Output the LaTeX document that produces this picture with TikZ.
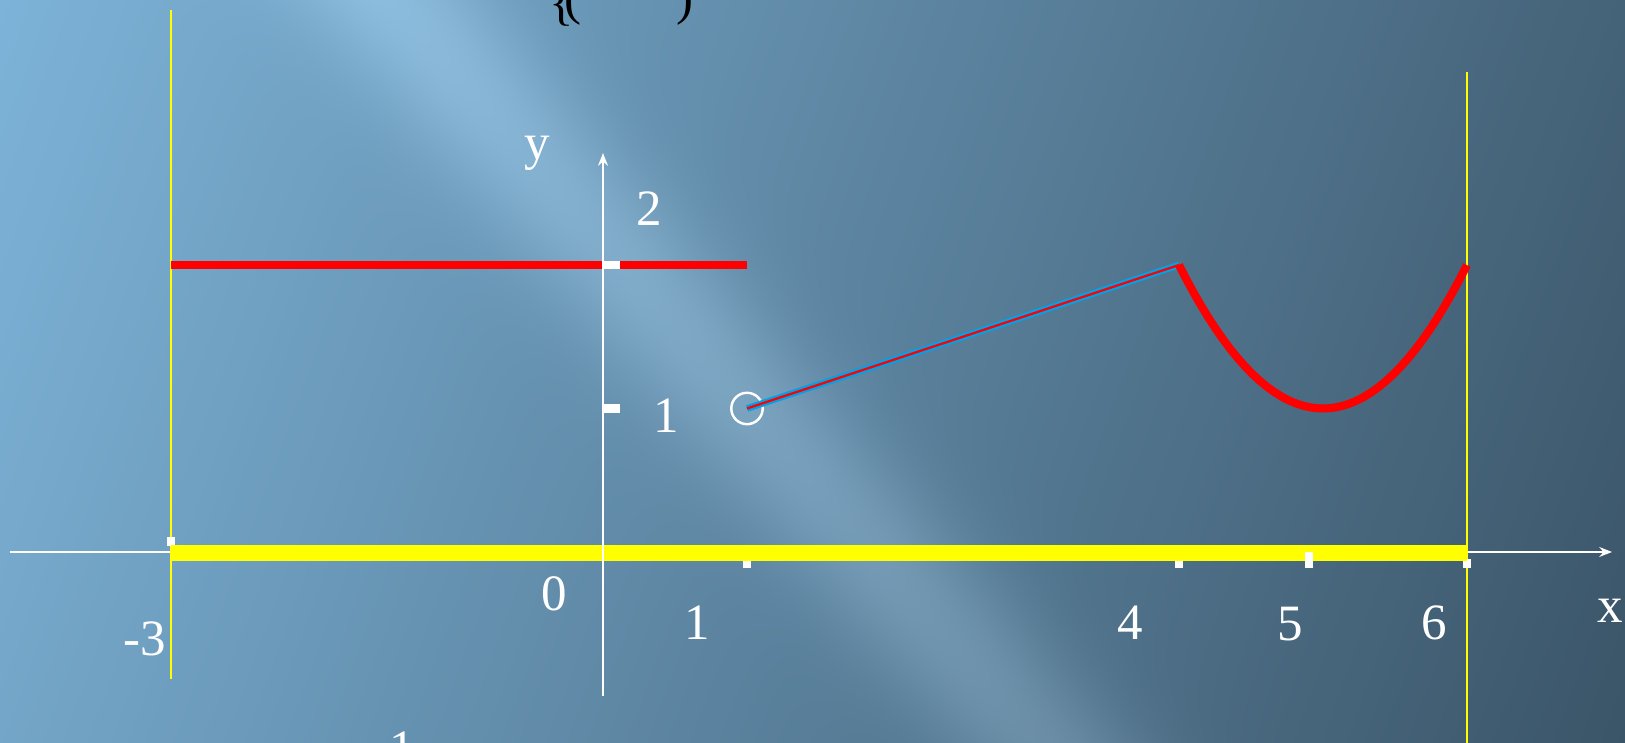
\documentclass[tikz,border=0pt]{standalone}
\usepackage{fontspec}
\setmainfont{Liberation Serif}
\usetikzlibrary{arrows.meta}
\definecolor{cRed}{HTML}{FF0000}
\definecolor{cYellow}{HTML}{FFFF00}
\definecolor{cBlue}{HTML}{00A2E8}
% slide background: light to dark slate, with one bright diagonal streak
\pgfdeclarefunctionalshading{slidebg}{\pgfpointorigin}{\pgfpoint{100bp}{100bp}}{}{
  exch 25 sub 50 div 1625 mul
  exch 25 sub 50 div 743 mul
  2 copy 743 exch sub 0.342 mul exch 0.94 mul add
  3 1 roll 0.656 mul exch 0.755 mul add
  785 sub 75 div dup mul neg 2.71828 exch exp 0.11 mul
  exch 1781 div
  2 copy -0.259 mul 0.490 add add 3 1 roll
  2 copy -0.369 mul 0.702 add add 3 1 roll
  -0.439 mul 0.847 add add
}

\begin{document}
\begin{tikzpicture}[x=1.44cm, y=1.435cm,
   font=\fontsize{14.5}{17}\selectfont, >={Stealth[length=3.6pt,width=2.8pt]},
   axisline/.style={->, white, line width=0.6pt},
   bound/.style={cYellow, line width=0.6pt},
   graph/.style={cRed, line width=2.3pt},
   tickmark/.style={white, line width=2.3pt},
   lbl/.style={text=white, inner sep=0pt, anchor=base}]
  % background
  \useasboundingbox (-6.03cm,-1.91cm) rectangle (10.22cm,5.52cm);
  \shade[shading=slidebg] (-6.03cm,-1.91cm) rectangle (10.22cm,5.52cm);

  % axes and bounds
  \draw[axisline] (-4.118,0) -- (7.007,0);
  \draw[bound] (-3,3.777) -- (-3,-0.885);
  \draw[bound] (6,3.345) -- (6,-1.4);
  \draw[graph] (-3,2) -- (1,2);
  \draw[tickmark] (0,2) -- (0.12,2);
  \draw[tickmark] (0,1) -- (0.12,1);
  \draw[tickmark] (-3,0.105) -- (-3,0.04);
  \foreach \t in {1,4,6} \draw[tickmark] (\t,-0.05) -- (\t,-0.11);
  \draw[cYellow, line width=4.55pt] (-3,-0.007) -- (6,-0.007);
  \draw[tickmark] (4.9,0) -- (4.9,-0.11);
  \draw[axisline] (0,-1.003) -- (0,2.78);

  % graph pieces
  \draw[white, line width=0.7pt] (1,1) circle (0.157cm);
  \draw[cBlue, line width=1.9pt] (1,1) -- (4,2);
  \draw[cRed, line width=0.65pt] (1,1) -- (4,2);
  \draw[graph, domain=4:6, samples=40] plot (\x, {1+(\x-5)^2});

  % labels
  \node[lbl] (ylab) at (-0.458,2.735) {y};
  \node[lbl] (ytwo) at (0.319,2.272) {2};
  \node[lbl] (yone) at (0.4375,0.836) {1};
  \node[lbl] (orig) at (-0.340,-0.411) {0};
  \node[lbl] (xone) at (0.653,-0.613) {1};
  \node[lbl] (xfour) at (3.660,-0.613) {4};
  \node[lbl] (xfive) at (4.771,-0.62) {5};
  \node[lbl] (xsix) at (5.771,-0.613) {6};
  \node[lbl] (xmthree) at (-3.181,-0.718) {-3};
  \node[lbl] (xlab) at (6.993,-0.488) {x};
  \node[lbl] (botone) at (-1.396,-1.491) {1};
  \node[lbl, text=black] (brace) at (-0.285,3.714) {\{};
  \node[lbl, text=black] (lpar) at (-0.208,3.749) {(};
  \node[lbl, text=black] (rpar) at (0.566,3.749) {)};
\end{tikzpicture}
\end{document}
